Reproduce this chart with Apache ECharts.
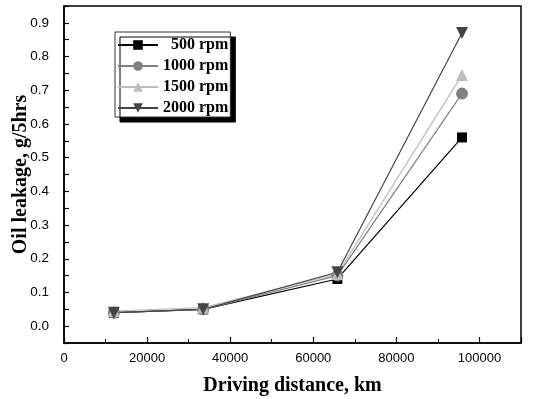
<!DOCTYPE html>
<html>
<head>
<meta charset="utf-8">
<script src="https://cdn.jsdelivr.net/npm/echarts@6/dist/echarts.min.js"></script>
<style>
  html, body { margin: 0; padding: 0; background: #fff; }
  #chart { width: 534px; height: 399px; }
</style>
</head>
<body>
<div id="chart"></div>
<script>
// driving distance (km) and oil leakage (g/5hrs) per engine speed
const distances = [12000, 33500, 65800, 95800];
const rpm500 = [0.04, 0.05, 0.14, 0.56];
const rpm1000 = [0.04, 0.05, 0.15, 0.69];
const rpm1500 = [0.045, 0.055, 0.155, 0.745];
const rpm2000 = [0.04, 0.05, 0.16, 0.87];

const seriesDefs = [
  { name: '500 rpm', values: rpm500, color: '#000000', symbol: 'rect', rotate: 0 },
  { name: '1000 rpm', values: rpm1000, color: '#808080', symbol: 'circle', rotate: 0 },
  { name: '1500 rpm', values: rpm1500, color: '#bdbdbd', symbol: 'triangle', rotate: 0 },
  { name: '2000 rpm', values: rpm2000, color: '#444444', symbol: 'triangle', rotate: 180 },
];

const chart = echarts.init(document.getElementById('chart'));

const serifBold = { fontFamily: 'Liberation Serif', fontWeight: 'bold', color: '#000' };

const option = {
  animation: false,
  grid: {
    left: 64, right: 13, top: 6, bottom: 56,
    outerBoundsMode: 'none',
    show: true, borderColor: '#000', borderWidth: 1.5, backgroundColor: 'transparent',
  },
  legend: {
    orient: 'vertical',
    left: 115, top: 32,
    itemWidth: 40, itemHeight: 12, itemGap: 5,
    padding: [5, 2, 1, 2],
    backgroundColor: '#fff',
    borderColor: '#333', borderWidth: 1,
    shadowColor: '#000', shadowBlur: 0, shadowOffsetX: 5, shadowOffsetY: 5,
    textStyle: { ...serifBold, fontSize: 16 },
    // the shorter label sits right-aligned in the original
    formatter: (n) => (n.length < 8 ? '  ' + n : n),
    data: seriesDefs.map((s) => s.name),
  },
  xAxis: {
    type: 'value',
    min: 0, max: 110000, interval: 20000,
    name: 'Driving distance, km',
    nameLocation: 'middle', nameGap: 33,
    nameTextStyle: { ...serifBold, fontSize: 20 },
    axisLine: { onZero: false, lineStyle: { color: '#000', width: 1.5 } },
    axisTick: { inside: true, length: 6, lineStyle: { color: '#000', width: 1.2 } },
    minorTick: { show: true, splitNumber: 2, length: 4, lineStyle: { color: '#000', width: 1 } },
    axisLabel: {
      color: '#000', fontFamily: 'Liberation Sans', fontSize: 13, margin: 9,
      showMaxLabel: false,
      formatter: (v) => (v % 20000 === 0 ? String(v) : ''),
    },
    splitLine: { show: false },
  },
  yAxis: {
    type: 'value',
    min: -0.05, max: 0.95, interval: 0.05,
    name: 'Oil leakage, g/5hrs',
    nameLocation: 'middle', nameGap: 33,
    nameMoveOverlap: false,
    nameTextStyle: { ...serifBold, fontSize: 20 },
    axisLine: { onZero: false, lineStyle: { color: '#000', width: 1.5 } },
    axisTick: { inside: true, length: 5, lineStyle: { color: '#000', width: 1.2 } },
    axisLabel: {
      color: '#000', fontFamily: 'Liberation Sans', fontSize: 13.5, margin: 15,
      formatter: (v) => {
        const r = Math.round(v * 100);
        return r >= 0 && r % 10 === 0 ? (r / 100).toFixed(1) : '';
      },
    },
    splitLine: { show: false },
  },
  series: seriesDefs.map((s) => ({
    name: s.name,
    type: 'line',
    data: distances.map((d, i) => [d, s.values[i]]),
    symbol: s.symbol,
    symbolRotate: s.rotate,
    symbolSize: s.symbol === 'rect' ? 10 : 12,
    showAllSymbol: true,
    lineStyle: { color: s.color, width: 1.2 },
    itemStyle: { color: s.color },
  })),
};

chart.setOption(option);
</script>
</body>
</html>
